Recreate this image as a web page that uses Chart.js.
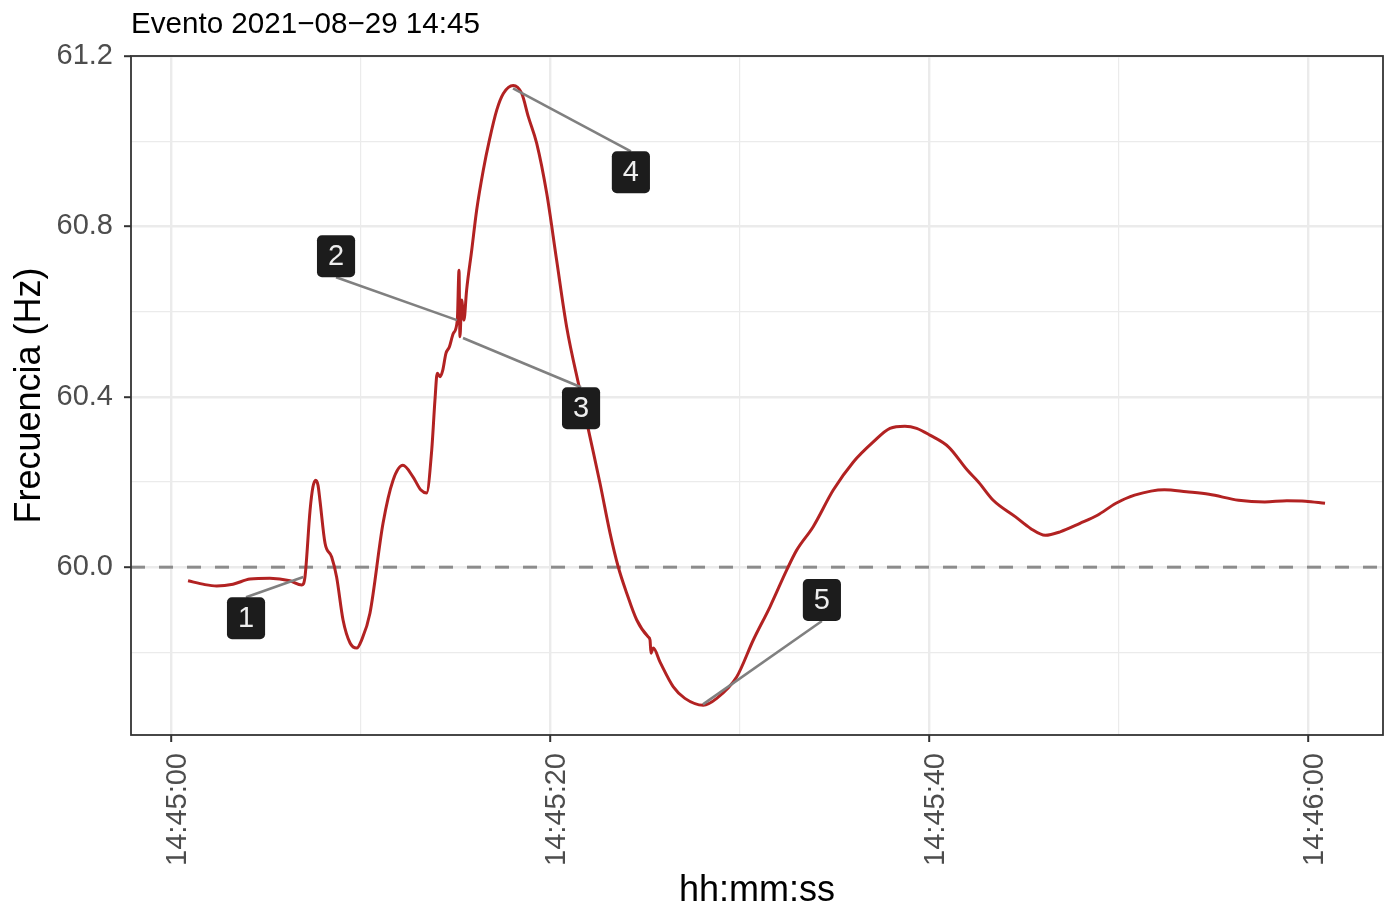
<!DOCTYPE html>
<html>
<head>
<meta charset="utf-8">
<script src="https://cdn.jsdelivr.net/npm/chart.js@4.4.1/dist/chart.umd.min.js"></script>
<style>
  html, body { margin: 0; padding: 0; background: #ffffff; }
  canvas { display: block; }
</style>
</head>
<body>
<canvas id="chartFreq" width="1387" height="911"></canvas>
<script>
// seconds after 14:45:00
const timeSec = [
  0.90, 1.79, 2.41, 3.27, 4.17, 5.22, 6.28, 6.90, 7.07, 7.34,
  7.49, 7.64, 7.76, 7.86, 8.13, 8.48, 8.74, 9.08, 9.45, 9.80,
  10.06, 10.50, 11.19, 11.72, 12.24, 12.77, 13.19, 13.49, 13.76, 13.93,
  14.05, 14.20, 14.34, 14.51, 14.69, 14.90, 15.11, 15.20, 15.25, 15.34,
  15.46, 15.60, 15.87, 16.13, 16.48, 16.80, 17.19, 17.54, 18.06, 18.51,
  18.86, 19.30, 19.83, 20.35, 20.88, 21.58, 22.11, 22.64, 23.17, 23.60,
  24.05, 24.58, 25.19, 25.28, 25.33, 25.45, 25.81, 26.51, 27.12, 28.09,
  28.80, 29.85, 30.73, 31.61, 32.49, 33.02, 33.89, 34.95, 36.01, 37.06,
  37.94, 38.73, 39.35, 40.05, 41.04, 42.02, 42.61, 43.39, 44.57, 45.36,
  46.14, 46.92, 47.97, 48.89, 49.87, 50.85, 52.42, 53.59, 54.78, 56.34,
  57.72, 58.89, 59.87, 60.90
];
const freqHz = [
  59.968, 59.959, 59.956, 59.960, 59.972, 59.974, 59.968, 59.958, 59.977, 60.134,
  60.188, 60.204, 60.192, 60.157, 60.056, 60.024, 59.977, 59.876, 59.822, 59.810,
  59.829, 59.892, 60.103, 60.204, 60.239, 60.212, 60.181, 60.174, 60.275, 60.392,
  60.455, 60.447, 60.462, 60.502, 60.517, 60.549, 60.580, 60.697, 60.541, 60.627,
  60.580, 60.650, 60.744, 60.838, 60.932, 61.002, 61.073, 61.112, 61.131, 61.112,
  61.057, 60.995, 60.877, 60.721, 60.564, 60.415, 60.306, 60.197, 60.080, 60.001,
  59.939, 59.876, 59.836, 59.829, 59.798, 59.810, 59.777, 59.719, 59.692, 59.676,
  59.692, 59.742, 59.829, 59.907, 59.993, 60.040, 60.095, 60.181, 60.247, 60.294,
  60.326, 60.331, 60.326, 60.310, 60.282, 60.228, 60.200, 60.157, 60.118, 60.091,
  60.075, 60.083, 60.103, 60.122, 60.150, 60.169, 60.182, 60.177, 60.171, 60.157,
  60.153, 60.156, 60.155, 60.150
];

const xMajorTicks = [0, 20, 40, 60];
const xMajorLabels = ["14:45:00", "14:45:20", "14:45:40", "14:46:00"];
const xMinorTicks = [10, 30, 50];
const yMajorTicks = [60.0, 60.4, 60.8, 61.2];
const yMinorTicks = [59.8, 60.2, 60.6, 61.0];
const nominalHz = 60.0;

// numbered event labels: point on the curve and where the label sits
const eventIds = ["1", "2", "3", "4", "5"];
const eventPointSec = [6.98, 15.09, 15.41, 18.05, 28.07];
const eventPointHz = [59.977, 60.580, 60.538, 61.124, 59.678];
const eventLabelSec = [3.96, 8.71, 21.64, 24.27, 34.35];
const eventLabelHz = [59.880, 60.730, 60.373, 60.927, 59.923];

const titleText = "Evento 2021\u221208\u221229 14:45";
const FONT = "'Liberation Sans', Arial, Helvetica, sans-serif";

const isMajorX = (v) => xMajorTicks.includes(v);
const isMajorY = (v) => yMajorTicks.includes(v);

const eventPlugin = {
  id: "eventos",
  beforeDatasetsDraw(chart) {
    const { ctx, chartArea, scales } = chart;
    const y = scales.y.getPixelForValue(nominalHz);
    ctx.save();
    ctx.beginPath();
    ctx.rect(chartArea.left, chartArea.top, chartArea.right - chartArea.left, chartArea.bottom - chartArea.top);
    ctx.clip();
    ctx.strokeStyle = "#8c8c8c";
    ctx.lineWidth = 3;
    ctx.setLineDash([14, 14]);
    ctx.beginPath();
    ctx.moveTo(chartArea.left, y);
    ctx.lineTo(chartArea.right, y);
    ctx.stroke();
    ctx.restore();
  },
  afterDatasetsDraw(chart) {
    const { ctx, chartArea, scales } = chart;
    ctx.save();
    ctx.font = "29px " + FONT;
    const boxH = 42;
    eventIds.forEach((id, i) => {
      const px = scales.x.getPixelForValue(eventPointSec[i]);
      const py = scales.y.getPixelForValue(eventPointHz[i]);
      const cx = scales.x.getPixelForValue(eventLabelSec[i]);
      const cy = scales.y.getPixelForValue(eventLabelHz[i]);
      const w = ctx.measureText(id).width + 22;
      // segment ends at the middle of the box side that faces the point
      let ex = cx, ey = cy;
      if (py < cy - boxH / 2) ey = cy - boxH / 2;
      else if (py > cy + boxH / 2) ey = cy + boxH / 2;
      else ex = px < cx ? cx - w / 2 : cx + w / 2;
      ctx.strokeStyle = "#808080";
      ctx.lineWidth = 2.6;
      ctx.beginPath();
      ctx.moveTo(px, py);
      ctx.lineTo(ex, ey);
      ctx.stroke();
    });
    ctx.textAlign = "center";
    ctx.textBaseline = "middle";
    eventIds.forEach((id, i) => {
      const cx = scales.x.getPixelForValue(eventLabelSec[i]);
      const cy = scales.y.getPixelForValue(eventLabelHz[i]);
      const w = ctx.measureText(id).width + 22;
      ctx.fillStyle = "#1c1c1c";
      ctx.beginPath();
      ctx.roundRect(cx - w / 2, cy - boxH / 2, w, boxH, 5);
      ctx.fill();
      ctx.fillStyle = "#eeeeee";
      ctx.fillText(id, cx, cy + 1);
    });
    // panel border
    ctx.strokeStyle = "#333333";
    ctx.lineWidth = 1.8;
    ctx.strokeRect(chartArea.left, chartArea.top, chartArea.right - chartArea.left, chartArea.bottom - chartArea.top);
    ctx.restore();
  },
  afterDraw(chart) {
    const { ctx, chartArea } = chart;
    ctx.save();
    ctx.font = "29.6px " + FONT;
    ctx.fillStyle = "#000000";
    ctx.textAlign = "left";
    ctx.textBaseline = "alphabetic";
    ctx.fillText(titleText, chartArea.left, 33);
    ctx.restore();
  },
};

const ctx = document.getElementById("chartFreq").getContext("2d");
new Chart(ctx, {
  type: "line",
  data: {
    datasets: [
      {
        label: "Frecuencia",
        data: timeSec.map((t, i) => ({ x: t, y: freqHz[i] })),
        borderColor: "#b22222",
        borderWidth: 3,
        pointRadius: 0,
        cubicInterpolationMode: "monotone",
        fill: false,
      },
    ],
  },
  options: {
    responsive: false,
    animation: false,
    events: [],
    layout: { padding: { top: 56, right: 4, left: 0, bottom: 0 } },
    plugins: { legend: { display: false }, tooltip: { enabled: false } },
    scales: {
      x: {
        type: "linear",
        min: -2.11,
        max: 63.96,
        afterBuildTicks: (scale) => {
          scale.ticks = [...xMajorTicks, ...xMinorTicks].sort((a, b) => a - b).map((v) => ({ value: v }));
        },
        afterFit: (scale) => { scale.height = 176; },
        border: { display: false },
        grid: {
          color: "#ebebeb",
          lineWidth: (c) => (c.tick && isMajorX(c.tick.value) ? 2.4 : 1.2),
          tickColor: (c) => (c.tick && isMajorX(c.tick.value) ? "#333333" : "rgba(0,0,0,0)"),
          tickWidth: 2,
          tickLength: 7,
        },
        ticks: {
          autoSkip: false,
          minRotation: 90,
          maxRotation: 90,
          padding: 11,
          labelOffset: 7,
          color: "#4d4d4d",
          font: { family: FONT, size: 29, lineHeight: 1.2 },
          callback: (v) => (isMajorX(v) ? xMajorLabels[xMajorTicks.indexOf(v)] : ""),
        },
        title: {
          display: true,
          text: "hh:mm:ss",
          color: "#000000",
          font: { family: FONT, size: 36, lineHeight: 1.1 },
          padding: { top: 0, bottom: 0 },
        },
      },
      y: {
        type: "linear",
        min: 59.606,
        max: 61.2,
        afterBuildTicks: (scale) => {
          scale.ticks = [...yMinorTicks, ...yMajorTicks].sort((a, b) => a - b).map((v) => ({ value: v }));
        },
        afterFit: (scale) => { scale.width = 131; },
        border: { display: false },
        grid: {
          color: "#ebebeb",
          lineWidth: (c) => (c.tick && isMajorY(c.tick.value) ? 2.4 : 1.2),
          tickColor: (c) => (c.tick && isMajorY(c.tick.value) ? "#333333" : "rgba(0,0,0,0)"),
          tickWidth: 2,
          tickLength: 7,
        },
        ticks: {
          padding: 11,
          color: "#4d4d4d",
          font: { family: FONT, size: 29 },
          callback: (v) => (isMajorY(v) ? v.toFixed(1) : ""),
        },
        title: {
          display: true,
          text: "Frecuencia (Hz)",
          color: "#000000",
          font: { family: FONT, size: 36, lineHeight: 1.2 },
          padding: { top: 8, bottom: 0 },
        },
      },
    },
  },
  plugins: [eventPlugin],
});
</script>
</body>
</html>
